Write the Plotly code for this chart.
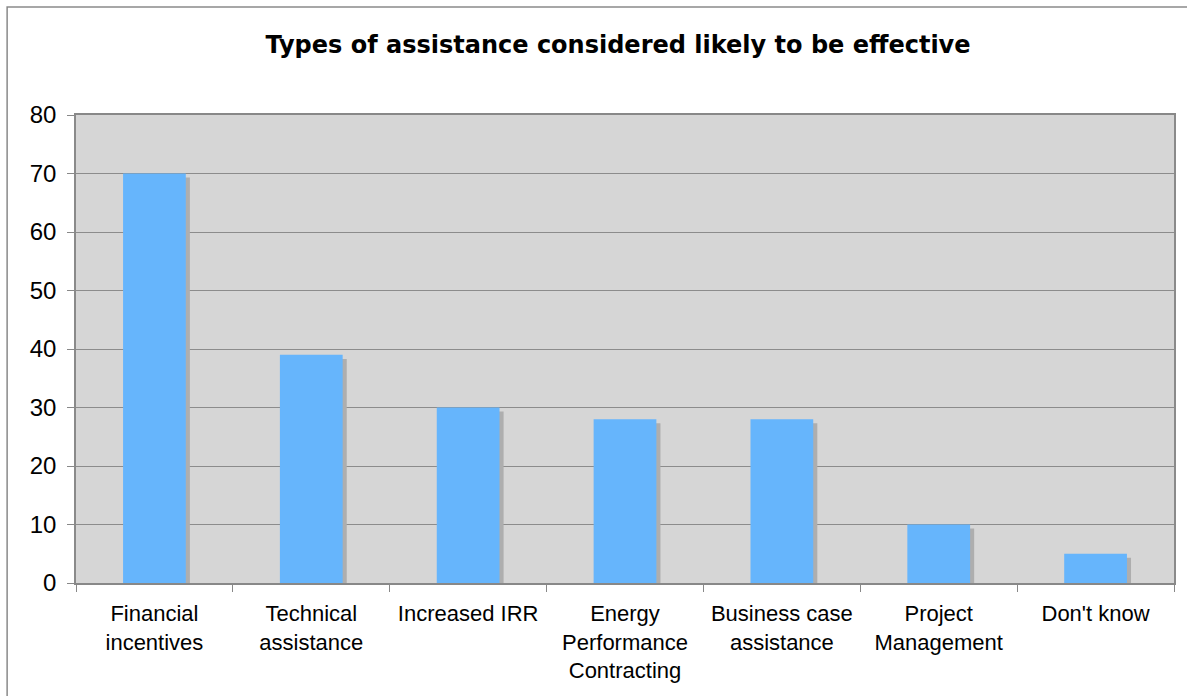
import plotly.graph_objects as go

categories = [
    "Financial<br>incentives",
    "Technical<br>assistance",
    "Increased IRR",
    "Energy<br>Performance<br>Contracting",
    "Business case<br>assistance",
    "Project<br>Management",
    "Don't know",
]
responses = [70, 39, 30, 28, 28, 10, 5]

BAR_W = 0.4
SHADOW_SHIFT = 0.026   # category units to the right
SHADOW_DROP = 0.7      # value units downward

fig = go.Figure()

# drop shadow behind each bar
fig.add_trace(go.Bar(
    x=categories, y=responses, base=[-SHADOW_DROP] * len(responses),
    width=BAR_W, offset=-BAR_W / 2 + SHADOW_SHIFT,
    marker=dict(color="#aeaeae", line=dict(width=0)),
    hoverinfo="skip", showlegend=False,
))
fig.add_trace(go.Bar(
    x=categories, y=responses,
    width=BAR_W, offset=-BAR_W / 2,
    marker=dict(color="#66b5fc", line=dict(width=0)),
    showlegend=False,
))

fig.update_layout(
    width=1187, height=696,
    barmode="overlay",
    paper_bgcolor="white",
    plot_bgcolor="#d6d6d6",
    margin=dict(l=76, r=11, t=115, b=113),
    title=dict(
        text="<b>Types of assistance considered likely to be effective</b>",
        font=dict(family="DejaVu Sans", size=24, color="black"),
        x=618 / 1187, xref="container", xanchor="center",
        y=1 - 45 / 696, yref="container", yanchor="middle",
    ),
    font=dict(family="Liberation Sans", color="black"),
    shapes=[dict(
        type="rect", xref="paper", yref="paper",
        x0=-69 / 1100, x1=1.05, y0=-0.3, y1=1 + 108 / 468,
        line=dict(color="#8a8a8a", width=1.5), layer="below",
    )],
)

fig.update_xaxes(
    type="category",
    tickson="boundaries",
    ticks="outside", ticklen=7, tickcolor="#888888",
    showline=True, linecolor="#888888", linewidth=1.5, mirror=True,
    showgrid=False,
    tickfont=dict(size=22, color="black"),
    ticklabelstandoff=10,
)
fig.update_yaxes(
    range=[0, 80], dtick=10,
    ticks="outside", ticklen=7, tickcolor="#888888",
    showline=True, linecolor="#8a8a8a", linewidth=1.5, mirror=True,
    showgrid=True, gridcolor="#8c8c8c", gridwidth=1.2,
    zeroline=False,
    tickfont=dict(size=24, color="black"),
    ticklabelstandoff=6,
)

fig.write_html("out.html")
